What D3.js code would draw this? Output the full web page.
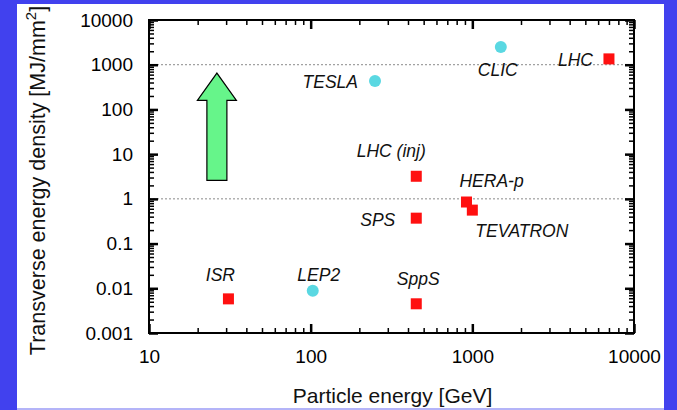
<!DOCTYPE html>
<html>
<head>
<meta charset="utf-8">
<script src="https://cdn.jsdelivr.net/npm/d3@7"></script>
<style>
  body { margin: 0; background: #fff; }
  svg text { font-family: "Liberation Sans", Arial, Helvetica, sans-serif; }
</style>
</head>
<body>
<svg id="chart" width="677" height="410"></svg>
<script>
// machines, beam energy [GeV], transverse energy density [MJ/mm^2]
var machines = ['TESLA', 'CLIC', 'LHC', 'LHC (inj)', 'HERA-p', 'TEVATRON', 'SPS', 'SppS', 'ISR', 'LEP2'];
var energy   = [250, 1500, 7000, 450, 920, 1000, 450, 450, 31, 103];
var density  = [430, 2500, 1350, 3.2, 0.85, 0.56, 0.37, 0.0045, 0.0058, 0.0088];
var kind     = ['lepton', 'lepton', 'hadron', 'hadron', 'hadron', 'hadron', 'hadron', 'hadron', 'hadron', 'lepton'];

var xTicks = [10, 100, 1000, 10000];
var xTickLabels = ['10', '100', '1000', '10000'];
var yTicks = [0.001, 0.01, 0.1, 1, 10, 100, 1000, 10000];
var yTickLabels = ['0.001', '0.01', '0.1', '1', '10', '100', '1000', '10000'];
var refLines = [1, 1000];
// arrow: x position, bottom, head base, tip (data units)
var arrowX = 26.3;
var arrowY = [2.6, 160, 650];

// label placement around each marker (px)
var labelPos = {
  'TESLA':     { dx: -17, dy: 7,   anchor: 'end' },
  'CLIC':      { dx: -3,  dy: 29,  anchor: 'middle' },
  'LHC':       { dx: -16, dy: 7,   anchor: 'end' },
  'LHC (inj)': { dx: -25, dy: -19, anchor: 'middle' },
  'HERA-p':    { dx: -7,  dy: -15, anchor: 'start' },
  'TEVATRON':  { dx: 3,   dy: 27,  anchor: 'start' },
  'SPS':       { dx: -21, dy: 8,   anchor: 'end' },
  'SppS':      { dx: 2,   dy: -19, anchor: 'middle' },
  'ISR':       { dx: -8,  dy: -18, anchor: 'middle' },
  'LEP2':      { dx: 6,   dy: -10, anchor: 'middle' }
};

var plotL = 149, plotR = 634, plotT = 20, plotB = 333;

var svg = d3.select('#chart');

// blue frame
svg.append('rect').attr('width', 677).attr('height', 410).attr('fill', '#4141ee');
svg.append('rect').attr('x', 17).attr('y', 4).attr('width', 647).attr('height', 404).attr('fill', '#fff');
svg.append('rect').attr('x', 17).attr('y', 408).attr('width', 647).attr('height', 2).attr('fill', '#b4b4f8');

var x = d3.scaleLog().domain([10, 10000]).range([plotL, plotR]);
var y = d3.scaleLog().domain([0.001, 10000]).range([plotB, plotT]);

var isDecade = function(v){ return Math.abs(Math.log10(v) - Math.round(Math.log10(v))) < 1e-9; };
var xMinor = x.ticks().filter(function(v){ return !isDecade(v); });
var yMinor = y.ticks().filter(function(v){ return !isDecade(v); });

// dotted reference lines
svg.selectAll('.ref')
  .data(refLines)
  .enter().append('line')
  .attr('x1', plotL).attr('x2', plotR)
  .attr('y1', function(d){ return y(d); })
  .attr('y2', function(d){ return y(d); })
  .attr('stroke', '#8a8a8a')
  .attr('stroke-width', 1)
  .attr('stroke-dasharray', '2,2');

var styleAxis = function(g, w){
  g.select('.domain').remove();
  g.selectAll('.tick line').attr('stroke', '#000').attr('stroke-width', w);
  g.selectAll('.tick text').attr('fill', '#000').style('font-size', '19px');
};

// bottom
svg.append('g').attr('transform', 'translate(0,' + plotB + ')')
  .call(d3.axisBottom(x).tickValues(xTicks).tickSize(-9).tickPadding(16.5)
    .tickFormat(function(d, i){ return xTickLabels[i]; }))
  .call(styleAxis, 2.5);
svg.append('g').attr('transform', 'translate(0,' + plotB + ')')
  .call(d3.axisBottom(x).tickValues(xMinor).tickSize(-5).tickFormat(''))
  .call(styleAxis, 1.5);
// top
svg.append('g').attr('transform', 'translate(0,' + plotT + ')')
  .call(d3.axisTop(x).tickValues(xTicks).tickSize(-9).tickFormat(''))
  .call(styleAxis, 2.5);
svg.append('g').attr('transform', 'translate(0,' + plotT + ')')
  .call(d3.axisTop(x).tickValues(xMinor).tickSize(-5).tickFormat(''))
  .call(styleAxis, 1.5);
// left
svg.append('g').attr('transform', 'translate(' + plotL + ',0)')
  .call(d3.axisLeft(y).tickValues(yTicks).tickSize(-9).tickPadding(16)
    .tickFormat(function(d, i){ return yTickLabels[i]; }))
  .call(styleAxis, 2.5);
svg.append('g').attr('transform', 'translate(' + plotL + ',0)')
  .call(d3.axisLeft(y).tickValues(yMinor).tickSize(-5).tickFormat(''))
  .call(styleAxis, 1.5);
// right
svg.append('g').attr('transform', 'translate(' + plotR + ',0)')
  .call(d3.axisRight(y).tickValues(yTicks).tickSize(-9).tickFormat(''))
  .call(styleAxis, 2.5);
svg.append('g').attr('transform', 'translate(' + plotR + ',0)')
  .call(d3.axisRight(y).tickValues(yMinor).tickSize(-5).tickFormat(''))
  .call(styleAxis, 1.5);

// frame
svg.append('rect')
  .attr('x', plotL).attr('y', plotT)
  .attr('width', plotR - plotL).attr('height', plotB - plotT)
  .attr('fill', 'none').attr('stroke', '#000').attr('stroke-width', 2);

// green arrow
var ax = x(arrowX);
var arrowPts = [
  [ax - 10, y(arrowY[0])], [ax - 10, y(arrowY[1])], [ax - 19.5, y(arrowY[1])],
  [ax, y(arrowY[2])],
  [ax + 19.5, y(arrowY[1])], [ax + 10, y(arrowY[1])], [ax + 10, y(arrowY[0])]
];
svg.append('path')
  .attr('d', d3.line()(arrowPts) + 'Z')
  .attr('fill', '#66f58a')
  .attr('stroke', '#000')
  .attr('stroke-width', 1.2)
  .attr('stroke-linejoin', 'miter');

var points = machines.map(function(m, i){
  return { name: m, e: energy[i], d: density[i], kind: kind[i] };
});

svg.selectAll('.sq')
  .data(points.filter(function(p){ return p.kind === 'hadron'; }))
  .enter().append('rect')
  .attr('x', function(p){ return x(p.e) - 5.5; })
  .attr('y', function(p){ return y(p.d) - 5.5; })
  .attr('width', 11).attr('height', 11)
  .attr('fill', '#ff1010');

svg.selectAll('.dot')
  .data(points.filter(function(p){ return p.kind === 'lepton'; }))
  .enter().append('circle')
  .attr('cx', function(p){ return x(p.e); })
  .attr('cy', function(p){ return y(p.d); })
  .attr('r', 6)
  .attr('fill', '#5ad8e2');

svg.selectAll('.lbl')
  .data(points)
  .enter().append('text')
  .attr('x', function(p){ return x(p.e) + labelPos[p.name].dx; })
  .attr('y', function(p){ return y(p.d) + labelPos[p.name].dy; })
  .attr('text-anchor', function(p){ return labelPos[p.name].anchor; })
  .style('font-size', '17.5px')
  .style('font-style', 'italic')
  .attr('fill', '#111')
  .text(function(p){ return p.name; });

// axis titles
svg.append('text')
  .attr('x', (plotL + plotR) / 2 + 1).attr('y', 403)
  .attr('text-anchor', 'middle')
  .style('font-size', '21px')
  .attr('fill', '#111')
  .text('Particle energy [GeV]');

var yt = svg.append('text')
  .attr('transform', 'translate(45,' + ((plotT + plotB) / 2 + 4) + ') rotate(-90)')
  .attr('text-anchor', 'middle')
  .style('font-size', '21.5px')
  .attr('fill', '#111');
yt.append('tspan').text('Transverse energy density [MJ/mm');
yt.append('tspan').attr('dy', -9).style('font-size', '15px').text('2');
yt.append('tspan').attr('dy', 9).text(']');
</script>
</body>
</html>
